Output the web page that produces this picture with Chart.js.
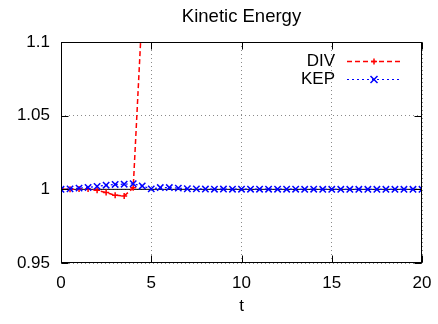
<!DOCTYPE html>
<html>
<head>
<meta charset="utf-8">
<script src="https://cdn.jsdelivr.net/npm/chart.js@4/dist/chart.umd.min.js"></script>
<style>
  html, body { margin: 0; padding: 0; background: #fff; }
</style>
</head>
<body>
<canvas id="energia" width="438" height="324"></canvas>
<script>
// datos
var tiempos = [0, 0.5, 1, 1.5, 2, 2.5, 3, 3.5, 4, 4.5, 5, 5.5, 6, 6.5, 7, 7.5, 8, 8.5, 9, 9.5,
               10, 10.5, 11, 11.5, 12, 12.5, 13, 13.5, 14, 14.5, 15, 15.5, 16, 16.5, 17, 17.5,
               18, 18.5, 19, 19.5, 20];
var kep = [1.0, 1.0003, 1.0008, 1.0013, 1.002, 1.0028, 1.0033, 1.0035, 1.0038, 1.0023, 1.0003,
           1.0012, 1.0012, 1.0008, 1.0004, 1.0003, 1.0002, 1.0001, 1.0002, 1.0001,
           1.0001, 1.0001, 1.0001, 1.0001, 1.0001, 1.0001, 1.0001, 1.0, 1.0001, 1.0,
           1.0, 1.0, 1.0, 1.0, 1.0, 1.0, 1.0, 1.0, 1.0, 1.0, 1.0];
var tiemposDiv = [0, 0.5, 1, 1.5, 2, 2.5, 3, 3.5, 4, 4.5];
var div = [1.0, 1.0, 1.0002, 1.0003, 0.9993, 0.9978, 0.996, 0.9955, 1.001, 1.122];
var ticksX = [0, 5, 10, 15, 20];
var ticksY = [0.95, 1, 1.05, 1.1];
var fuente = '"Liberation Sans", Arial, sans-serif';

function pares(xs, ys) {
    var r = [];
    for (var i = 0; i < xs.length; i++) r.push({ x: xs[i], y: ys[i] });
    return r;
}

// marco, ticks hacia dentro, titulo y leyenda al estilo gnuplot
var marco = {
    id: 'marco',
    afterDraw: function (chart) {
        var c = chart.ctx, a = chart.chartArea;
        var sx = chart.scales.x, sy = chart.scales.y;
        var l = Math.round(a.left) + 0.5, r = Math.round(a.right) - 0.5;
        var t = Math.round(a.top) + 0.5, b = Math.round(a.bottom) - 0.5;
        c.save();
        c.strokeStyle = '#000';
        c.lineWidth = 1;
        c.setLineDash([]);
        c.strokeRect(l, t, r - l, b - t);
        c.beginPath();
        ticksX.forEach(function (v) {
            var px = Math.round(sx.getPixelForValue(v)) + 0.5;
            c.moveTo(px, b); c.lineTo(px, b - 7);
            c.moveTo(px, t); c.lineTo(px, t + 7);
        });
        ticksY.forEach(function (v) {
            var py = Math.round(sy.getPixelForValue(v)) + 0.5;
            c.moveTo(l, py); c.lineTo(l + 7, py);
            c.moveTo(r, py); c.lineTo(r - 7, py);
        });
        c.stroke();

        c.fillStyle = '#000';
        c.font = '18.5px ' + fuente;
        c.textAlign = 'center';
        c.textBaseline = 'middle';
        c.fillText('Kinetic Energy', (a.left + a.right) / 2, 17);

        // leyenda
        c.font = '17px ' + fuente;
        c.textAlign = 'right';
        c.fillText('DIV', 335, 61);
        c.fillText('KEP', 335, 79);

        c.lineWidth = 1.5;
        c.strokeStyle = '#ff0000';
        c.setLineDash([5, 3]);
        c.beginPath(); c.moveTo(347, 61.5); c.lineTo(401, 61.5); c.stroke();
        c.setLineDash([]);
        c.beginPath();
        c.moveTo(371, 61.5); c.lineTo(377, 61.5);
        c.moveTo(374, 58.5); c.lineTo(374, 64.5);
        c.stroke();

        c.lineWidth = 1.2;
        c.strokeStyle = '#0000ff';
        c.setLineDash([2, 3]);
        c.beginPath(); c.moveTo(347, 79.5); c.lineTo(401, 79.5); c.stroke();
        c.setLineDash([]);
        c.lineWidth = 1.5;
        c.beginPath();
        c.moveTo(370.5, 76); c.lineTo(377.5, 83);
        c.moveTo(377.5, 76); c.lineTo(370.5, 83);
        c.stroke();
        c.restore();
    }
};

var ctx = document.getElementById('energia').getContext('2d');
var chart = new Chart(ctx, {
    type: 'line',
    data: {
        datasets: [{
            label: 'KEP',
            data: pares(tiempos, kep),
            borderColor: '#0000ff',
            borderWidth: 1.2,
            borderDash: [2, 3],
            pointStyle: 'crossRot',
            pointRadius: 4.5,
            pointBorderWidth: 1.5,
            pointBorderColor: '#0000ff',
            fill: false
        }, {
            label: 'DIV',
            data: pares(tiemposDiv, div),
            borderColor: '#ff0000',
            borderWidth: 1.5,
            borderDash: [5, 3],
            pointStyle: 'cross',
            pointRadius: 3,
            pointBorderWidth: 1.5,
            pointBorderColor: '#ff0000',
            fill: false
        }, {
            label: 'uno',
            data: pares([0, 20], [1, 1]),
            borderColor: '#000',
            borderWidth: 1,
            pointRadius: 0,
            fill: false
        }]
    },
    options: {
        responsive: false,
        animation: false,
        layout: { padding: { left: 0, right: 16, top: 42, bottom: 0 } },
        plugins: {
            legend: { display: false },
            title: { display: false },
            tooltip: { enabled: false }
        },
        scales: {
            x: {
                type: 'linear',
                min: 0,
                max: 20,
                afterFit: function (s) { s.height = 61; s.paddingLeft = 0; s.paddingRight = 0; },
                afterBuildTicks: function (s) { s.ticks = ticksX.map(function (v) { return { value: v }; }); },
                ticks: { color: '#000', font: { family: fuente, size: 17 }, padding: 10, maxRotation: 0 },
                grid: { color: '#8a8a8a', drawTicks: false },
                border: { display: false, dash: [1, 3] },
                title: { display: true, text: 't', color: '#000', font: { family: fuente, size: 17 }, padding: { top: 0, bottom: 7 } }
            },
            y: {
                min: 0.95,
                max: 1.1,
                afterFit: function (s) { s.width = 61; },
                afterBuildTicks: function (s) { s.ticks = ticksY.map(function (v) { return { value: v }; }); },
                ticks: {
                    color: '#000',
                    font: { family: fuente, size: 17 },
                    padding: 11,
                    callback: function (v) { return String(Number(v.toFixed(2))); }
                },
                grid: { color: '#8a8a8a', drawTicks: false },
                border: { display: false, dash: [1, 3] }
            }
        }
    },
    plugins: [marco]
});
</script>
</body>
</html>
